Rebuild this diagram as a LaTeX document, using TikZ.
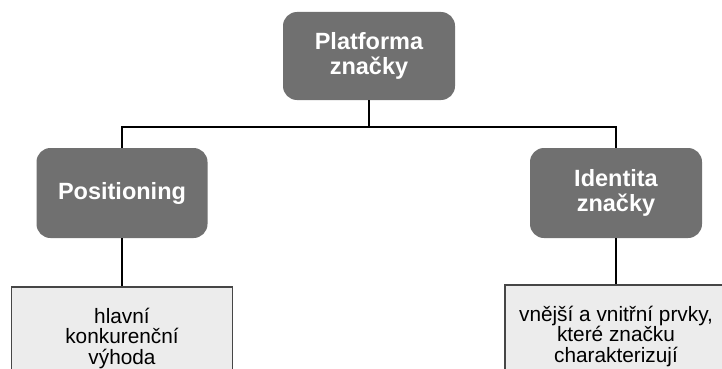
\documentclass[tikz,border=0pt]{standalone}
\usepackage{fontspec}
\setmainfont{Liberation Sans}
\definecolor{boxgray}{RGB}{112,112,112}
\definecolor{notefill}{RGB}{236,236,236}
\definecolor{noteline}{RGB}{70,70,70}
\begin{document}
\begin{tikzpicture}[x=1pt,y=1pt,
  headbox/.style={fill=boxgray, rounded corners=14pt, text=white, align=center,
    font=\fontsize{23.5}{25}\selectfont\bfseries, inner sep=0pt},
  notebox/.style={fill=notefill, draw=noteline, line width=1.3pt, align=center,
    font=\fontsize{20.8}{20.5}\selectfont, inner sep=0pt},
  link/.style={draw=black, line width=1.8pt}]
\clip (0,0) rectangle (722,-369);
\fill[white] (0,0) rectangle (722,-369);
\node[headbox, minimum width=172, minimum height=88] (top) at (369,-56) {Platforma\\značky};
\node[headbox, minimum width=171, minimum height=90] (pos) at (122,-193) {Positioning};
\node[headbox, minimum width=172, minimum height=90] (idt) at (616,-193) {Identita\\značky};
\node[notebox, minimum width=221, minimum height=102] (nl) at (122,-338) {hlavní\\konkurenční\\výhoda};
\node[notebox, minimum width=222, minimum height=102] (nr) at (616,-336) {vnější a vnitřní prvky,\\které značku\\charakterizují};
\coordinate (bus) at (369,-127);
\draw[link] (top.south) -- (bus);
\draw[link] (pos.north) -- (pos.north |- bus) -- (idt.north |- bus) -- (idt.north);
\draw[link] (pos.south) -- (nl.north);
\draw[link] (idt.south) -- (nr.north);
\end{tikzpicture}
\end{document}
